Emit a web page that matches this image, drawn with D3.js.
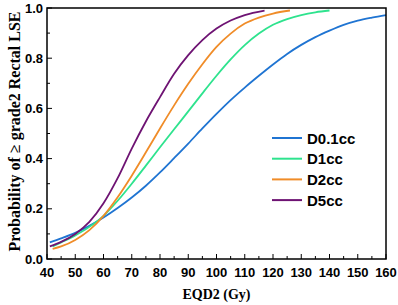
<!DOCTYPE html>
<html>
<head>
<meta charset="utf-8">
<script src="https://cdn.jsdelivr.net/npm/d3@7"></script>
<style>
  body { margin: 0; background: #fff; }
  svg { display: block; }
</style>
</head>
<body>
<div id="chart"></div>
<script>
// EQD2 (Gy) against probability, one array per curve
const d01x = [41, 45, 50, 55, 60, 65, 70, 75, 80, 85, 90, 95, 100, 105, 110, 115, 120, 125, 130, 135, 140, 145, 150, 155, 160]
const d01y = [0.066, 0.082, 0.104, 0.132, 0.165, 0.203, 0.245, 0.292, 0.345, 0.402, 0.46, 0.52, 0.578, 0.633, 0.683, 0.73, 0.775, 0.817, 0.853, 0.884, 0.91, 0.933, 0.95, 0.962, 0.972]

const d1x = [42, 45, 50, 55, 60, 65, 70, 75, 80, 85, 90, 95, 100, 105, 110, 115, 120, 125, 130, 135, 140]
const d1y = [0.05, 0.066, 0.094, 0.128, 0.172, 0.232, 0.3, 0.372, 0.445, 0.517, 0.588, 0.66, 0.73, 0.795, 0.852, 0.898, 0.933, 0.956, 0.972, 0.983, 0.99]

const d2x = [42, 45, 50, 55, 60, 65, 70, 75, 80, 85, 90, 95, 100, 105, 110, 115, 120, 126]
const d2y = [0.04, 0.05, 0.076, 0.115, 0.172, 0.246, 0.332, 0.425, 0.52, 0.612, 0.698, 0.776, 0.845, 0.898, 0.938, 0.962, 0.978, 0.99]

const d5x = [41, 45, 50, 55, 60, 65, 70, 75, 80, 85, 90, 95, 100, 105, 110, 117]
const d5y = [0.05, 0.068, 0.1, 0.148, 0.222, 0.322, 0.44, 0.548, 0.645, 0.738, 0.812, 0.872, 0.918, 0.95, 0.972, 0.99]

const seriesNames = ["D0.1cc", "D1cc", "D2cc", "D5cc"]
const seriesColors = ["#1f74d2", "#2ee38e", "#f08c28", "#6e1373"]

const xTicks = [40, 50, 60, 70, 80, 90, 100, 110, 120, 130, 140, 150, 160]
const yTicks = [0.0, 0.2, 0.4, 0.6, 0.8, 1.0]

function createCanvas(){
    return {width: 398, height: 305, margin: {top: 8, bottom: 46, right: 12, left: 47}}
}

const canvas = createCanvas()
const svg = d3.select("#chart").append("svg")
    .attr("width", canvas.width).attr("height", canvas.height)

const xScale = d3.scaleLinear().domain([40, 160])
    .range([canvas.margin.left, canvas.width - canvas.margin.right])
const yScale = d3.scaleLinear().domain([0, 1])
    .range([canvas.height - canvas.margin.bottom, canvas.margin.top])

const x0 = xScale(40), x1 = xScale(160), y0 = yScale(0), y1 = yScale(1)

// inside ticks, major and minor
const tickG = svg.append("g").attr("stroke", "#000").attr("stroke-width", 1)
d3.range(40, 161, 5).forEach(v => {
    const len = v % 10 === 0 ? 5 : 3
    tickG.append("line").attr("x1", xScale(v)).attr("x2", xScale(v))
        .attr("y1", y0).attr("y2", y0 - len)
})
d3.range(0, 11).forEach(i => {
    const v = i / 10
    const len = i % 2 === 0 ? 5 : 3
    tickG.append("line").attr("x1", x0).attr("x2", x0 + len)
        .attr("y1", yScale(v)).attr("y2", yScale(v))
})

// tick labels
svg.append("g").selectAll("text").data(xTicks).join("text")
    .attr("x", d => xScale(d)).attr("y", y0 + 18)
    .attr("text-anchor", "middle")
    .attr("font-family", "Liberation Sans, Arial, sans-serif")
    .attr("font-weight", "bold").attr("font-size", 13)
    .text(d => d)

svg.append("g").selectAll("text").data(yTicks).join("text")
    .attr("x", x0 - 4).attr("y", d => yScale(d) + 4.5)
    .attr("text-anchor", "end")
    .attr("font-family", "Liberation Sans, Arial, sans-serif")
    .attr("font-weight", "bold").attr("font-size", 13)
    .text(d => d.toFixed(1))

// axis titles
svg.append("text")
    .attr("x", (x0 + x1) / 2).attr("y", 299)
    .attr("text-anchor", "middle")
    .attr("font-family", "Liberation Serif, Times New Roman, serif")
    .attr("font-weight", "bold").attr("font-size", 14)
    .text("EQD2 (Gy)")

svg.append("text")
    .attr("transform", "translate(20, 131.5) rotate(-90)")
    .attr("text-anchor", "middle")
    .attr("font-family", "Liberation Serif, Times New Roman, serif")
    .attr("font-weight", "bold").attr("font-size", 16)
    .text("Probability of \u2265 grade2 Rectal LSE")

// curves
const allSeries = [[d01x, d01y], [d1x, d1y], [d2x, d2y], [d5x, d5y]]
const line = d3.line().x(d => xScale(d[0])).y(d => yScale(d[1])).curve(d3.curveMonotoneX)

allSeries.forEach((s, i) => {
    const pts = s[0].map((x, j) => [x, s[1][j]])
    svg.append("path").datum(pts)
        .attr("fill", "none").attr("stroke", seriesColors[i])
        .attr("stroke-width", 1.8).attr("d", line)
})

// frame
svg.append("rect").attr("x", x0).attr("y", y1)
    .attr("width", x1 - x0).attr("height", y0 - y1)
    .attr("fill", "none").attr("stroke", "#000").attr("stroke-width", 1.5)

// legend
const legend = svg.append("g")
seriesNames.forEach((name, i) => {
    const ly = 138 + i * 20.7
    legend.append("line").attr("x1", 272).attr("x2", 302)
        .attr("y1", ly).attr("y2", ly)
        .attr("stroke", seriesColors[i]).attr("stroke-width", 2)
    legend.append("text").attr("x", 307).attr("y", ly + 5.5)
        .attr("font-family", "Liberation Sans, Arial, sans-serif")
        .attr("font-weight", "bold").attr("font-size", 15)
        .text(name)
})
</script>
</body>
</html>
